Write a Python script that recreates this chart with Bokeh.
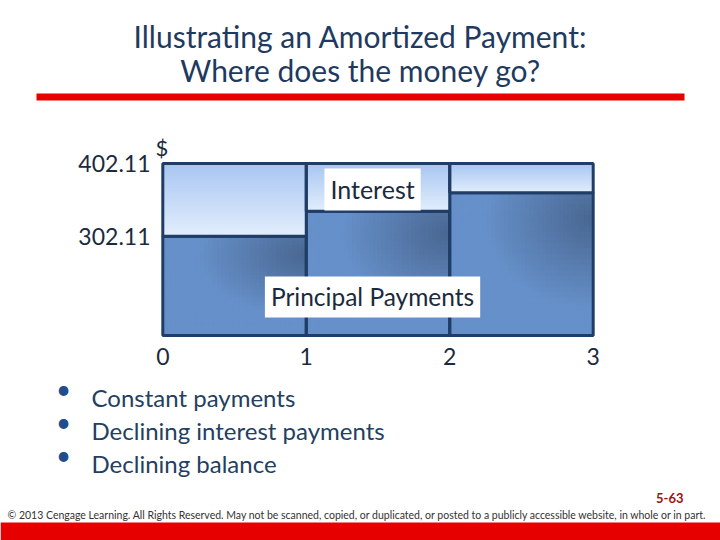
from bokeh.plotting import figure
from bokeh.layouts import column
from bokeh.models import Label, BoxAnnotation, FixedTicker, Range1d, ColumnDataSource
from bokeh.embed import file_html
from bokeh.resources import INLINE

# ---- data ----
periods = [0, 1, 2, 3]
payment = 402.11
principal = [302.11, 336.5, 362.0]
axis_base = 165.5
y_ticks = [302.11, 402.11]
y_tick_labels = ["302.11", "402.11"]
bullets = ["Constant payments", "Declining interest payments", "Declining balance"]
title_lines = ["Illustrating an Amortized Payment:", "Where does the money go?"]
footer_text = ("© 2013 Cengage Learning. All Rights Reserved. May not be scanned, copied, "
               "or duplicated, or posted to a publicly accessible website, in whole or in part.")

FONT = "Lato"
NAVY = "#1f3d66"
TEXT = "#1b2a3d"
W = 720


def deco_fig(top, bottom):
    f = figure(width=W, height=bottom - top, x_range=Range1d(0, W),
               y_range=Range1d(bottom, top), min_border=0,
               x_axis_location=None, y_axis_location=None,
               output_backend="svg", toolbar_location=None,
               outline_line_color=None, background_fill_color="white",
               border_fill_color="white")
    f.grid.visible = False
    return f


def lab(f, x, y, text, size, color=TEXT, align="left", style="normal"):
    f.add_layout(Label(x=x, y=y, text=text, text_align=align, text_baseline="middle",
                       text_font=FONT, text_font_size=size, text_color=color,
                       text_font_style=style))


def hexmix(c1, c2, t):
    a = [int(c1[i:i + 2], 16) for i in (1, 3, 5)]
    b = [int(c2[i:i + 2], 16) for i in (1, 3, 5)]
    return "#%02x%02x%02x" % tuple(round(a[k] + (b[k] - a[k]) * t) for k in range(3))


# ---- top: title + rule ----
top = deco_fig(0, 128)
lab(top, 360, 35, title_lines[0], "30px", "#1f3a5f", "center")
lab(top, 360, 69, title_lines[1], "30px", "#1f3a5f", "center")
top.add_layout(BoxAnnotation(left=36, right=684, top=93, bottom=100,
                             fill_color="#e60000", fill_alpha=1, line_color=None))

# ---- chart ----
p = figure(frame_width=439, frame_height=180,
           min_border_left=158, min_border_right=123,
           min_border_top=31, min_border_bottom=31,
           x_range=Range1d(-0.03, 3.03), y_range=Range1d(160.0, 407.6),
           output_backend="svg", toolbar_location=None,
           background_fill_color="white", border_fill_color="white",
           outline_line_color=None, title="$")
p.grid.visible = False
p.title.text_font = FONT
p.title.text_font_size = "22px"
p.title.text_font_style = "normal"
p.title.text_color = TEXT
p.title.align = "left"
p.title.offset = -3
p.title.standoff = -3

left = periods[:-1]
right = periods[1:]

# principal bars with diagonal shading
NU, NV = 34, 26
cl, cr, cb, ct, cc = [], [], [], [], []
for i, pr in enumerate(principal):
    dx = (right[i] - left[i]) / NU
    dy = (pr - axis_base) / NV
    for a in range(NU):
        for b in range(NV):
            u = (a + 0.5) / NU
            v = (b + 0.5) / NV
            d = ((u - 1.0) ** 2 + ((v - 0.82) * 1.2) ** 2) ** 0.5
            t = max(0.0, 1.0 - d / 0.75)
            cl.append(left[i] + a * dx); cr.append(left[i] + (a + 1) * dx)
            cb.append(axis_base + b * dy); ct.append(axis_base + (b + 1) * dy)
            cc.append(hexmix("#6690c9", "#496791", t))
p.quad(left=cl, right=cr, bottom=cb, top=ct, fill_color=cc, line_color=cc, line_width=1.3)

src_p = ColumnDataSource(dict(left=left, right=right,
                              bottom=[axis_base] * len(principal), top=principal))
p.quad(left="left", right="right", bottom="bottom", top="top", source=src_p,
       fill_alpha=0, line_color=NAVY, line_width=3)

# interest with vertical gradient
N = 24
sl, sr, sb, st, sc = [], [], [], [], []
for i, pr in enumerate(principal):
    h = (payment - pr) / N
    for k in range(N):
        sl.append(left[i]); sr.append(right[i])
        sb.append(pr + k * h); st.append(pr + (k + 1) * h)
        sc.append(hexmix("#e3eefc", "#a8c6f2", (k + 0.5) / N))
p.quad(left=sl, right=sr, bottom=sb, top=st, fill_color=sc, line_color=sc, line_width=1.3)
p.quad(left=left, right=right, bottom=principal, top=[payment] * len(principal),
       fill_alpha=0, line_color=NAVY, line_width=3)

p.xaxis.ticker = FixedTicker(ticks=periods)
p.yaxis.ticker = FixedTicker(ticks=y_ticks)
p.yaxis.major_label_overrides = {t: s for t, s in zip(y_ticks, y_tick_labels)}
for ax in (p.xaxis[0], p.yaxis[0]):
    ax.axis_line_color = None
    ax.major_tick_line_color = None
    ax.minor_tick_line_color = None
    ax.major_tick_out = 0
    ax.major_tick_in = 0
    ax.minor_tick_out = 0
    ax.minor_tick_in = 0
    ax.major_label_text_font = FONT
    ax.major_label_text_font_size = "23px"
    ax.major_label_text_color = TEXT
    ax.major_label_standoff = 8

p.add_layout(Label(x=1.462, y=366.5, text="Interest", text_align="center",
                   text_baseline="middle", text_font=FONT, text_font_size="25px",
                   text_color=TEXT, background_fill_color="white", padding=6))
p.add_layout(Label(x=1.462, y=218.5, text="Principal Payments", text_align="center",
                   text_baseline="middle", text_font=FONT, text_font_size="24.5px",
                   text_color=TEXT, background_fill_color="white", padding=6))

# ---- bottom: bullets + footer ----
bot = deco_fig(370, 540)
for i, b in enumerate(bullets):
    ty = 397 + 33 * i
    lab(bot, 63, ty - 9, "•", "26px", "#1f4e8c", "center")
    lab(bot, 91, ty, b, "24px", "#243f60")
lab(bot, 683, 497, "5-63", "13px", "#a01010", "right", "bold")
lab(bot, 7, 514, footer_text, "10.5px", "#333333")
bot.add_layout(BoxAnnotation(left=0, right=W, top=522, bottom=540,
                             fill_color="#e60000", fill_alpha=1, line_color=None))

for f in (top, p, bot):
    try:
        f.frame_align = False
    except Exception:
        pass

layout = column(top, p, bot, spacing=0)
open("out.html", "w").write(file_html(layout, INLINE))
